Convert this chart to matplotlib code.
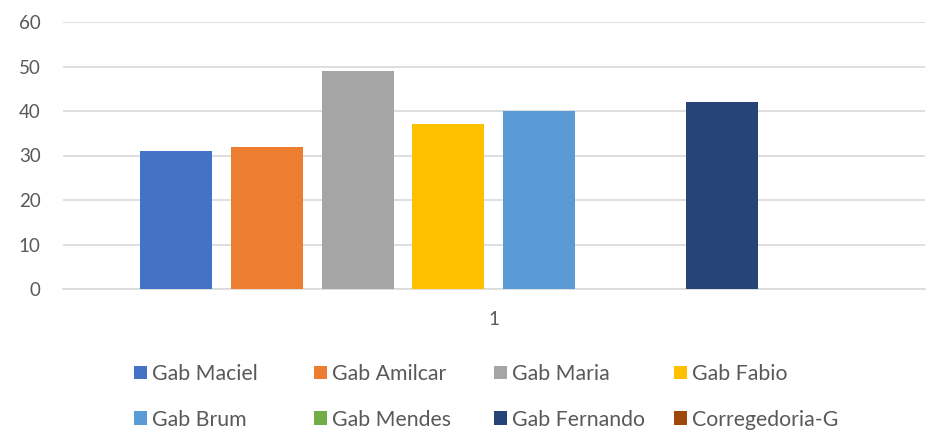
import matplotlib
matplotlib.use("Agg")
import matplotlib.pyplot as plt
import numpy as np

series = ["Gab Maciel", "Gab Amilcar", "Gab Maria", "Gab Fabio",
          "Gab Brum", "Gab Mendes", "Gab Fernando", "Corregedoria-G"]
values = [31, 32, 49, 37, 40, 0, 42, 0]
colors = ["#4472C4", "#ED7D31", "#A5A5A5", "#FFC000",
          "#5B9BD5", "#70AD47", "#264478", "#9E480E"]
category = "1"
yticks = [0, 10, 20, 30, 40, 50, 60]

plt.rcParams["font.family"] = ["Lato", "DejaVu Sans"]
txt = "#595959"

fig = plt.figure(figsize=(9.33, 4.32), dpi=100)
ax = fig.add_axes([63 / 933, 1 - 289 / 432, 862 / 933, 267 / 432])

n = len(series)
step = 91 / 862
width = 72 / 862
offsets = (np.arange(n) - (n - 1) / 2) * step
handles = []
for off, v, c, lab in zip(offsets, values, colors, series):
    b = ax.bar(off, v, width=width, color=c, label=lab, zorder=3)
    handles.append(b)

ax.set_xlim(-0.5, 0.5)
ax.set_ylim(0, 60)
ax.set_yticks(yticks)
ax.set_xticks([0])
ax.set_xticklabels([category])
ax.yaxis.grid(True, color="#d9d9d9", linewidth=1.2, zorder=0)
ax.set_axisbelow(True)
for s in ["left", "right", "top"]:
    ax.spines[s].set_visible(False)
ax.spines["bottom"].set_color("#d9d9d9")
ax.spines["bottom"].set_linewidth(1.2)
ax.tick_params(length=0, labelsize=13.5, colors=txt)
ax.tick_params(axis="y", pad=16)
ax.tick_params(axis="x", pad=16)

# legend: 4 columns, 2 rows, filled row by row, fixed column spacing
for col in range(4):
    idx = [col, col + 4]
    leg = fig.legend([handles[i] for i in idx], [series[i] for i in idx],
                     loc="upper left",
                     bbox_to_anchor=((134 + 180 * col) / 933, 1 - 364 / 432),
                     frameon=False, fontsize=15.3, handlelength=0.62,
                     handleheight=0.62, handletextpad=0.25, labelspacing=1.2,
                     borderpad=0, borderaxespad=0)
    for t in leg.get_texts():
        t.set_color(txt)

fig.savefig("out.png", dpi=100)
